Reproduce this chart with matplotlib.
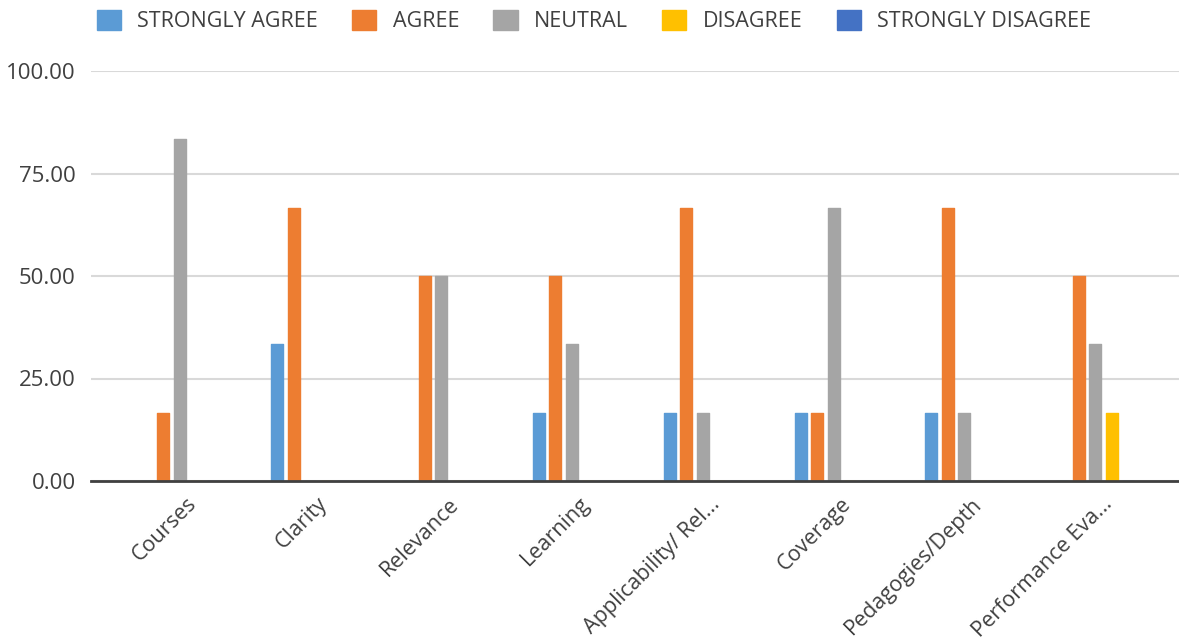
import matplotlib
matplotlib.use("Agg")
import matplotlib.pyplot as plt
import matplotlib.transforms as mtransforms
import numpy as np

categories = ["Courses", "Clarity", "Relevance", "Learning", "Applicability/ Rel...",
              "Coverage", "Pedagogies/Depth", "Performance Eva..."]
series_names = ["STRONGLY AGREE", "AGREE", "NEUTRAL", "DISAGREE", "STRONGLY DISAGREE"]
strongly_agree = [0, 33.33, 0, 16.67, 16.67, 16.67, 16.67, 0]
agree = [16.67, 66.67, 50.00, 50.00, 66.67, 16.67, 66.67, 50.00]
neutral = [83.33, 0, 50.00, 33.33, 16.67, 66.67, 16.67, 33.33]
disagree = [0, 0, 0, 0, 0, 0, 0, 16.67]
strongly_disagree = [0, 0, 0, 0, 0, 0, 0, 0]
yticks = [0, 25, 50, 75, 100]

colors = ["#5B9BD5", "#ED7D31", "#A5A5A5", "#FFC000", "#4472C4"]
all_series = [strongly_agree, agree, neutral, disagree, strongly_disagree]

plt.rcParams['font.family'] = ['Open Sans', 'DejaVu Sans']
fig = plt.figure(figsize=(11.79, 6.41), dpi=100)
W, H = 1179, 641
ax = fig.add_axes([91 / W, (H - 481) / H, (W - 91) / W, (481 - 71) / H])

x = np.arange(len(categories))
spacing = 16.5 / 130.8
width = 12 / 130.8
text_color = "#404040"

for k, (name, vals, c) in enumerate(zip(series_names, all_series, colors)):
    ax.bar(x + (k - 2) * spacing, vals, width=width, color=c, label=name,
           edgecolor=c, linewidth=1.0, joinstyle='round', zorder=3)

ax.set_xlim((91 - 179.5) / 130.8, (W - 179.5) / 130.8)
ax.set_ylim(0, 100)
ax.set_yticks(yticks)
ax.set_yticklabels([f"{v:.2f}" for v in yticks], fontsize=16, color=text_color)
ax.yaxis.grid(True, color="#D9D9D9", linewidth=1.5, zorder=0)
ax.set_axisbelow(True)
for s in ["top", "right", "left"]:
    ax.spines[s].set_visible(False)
ax.spines["bottom"].set_color("#404040")
ax.spines["bottom"].set_linewidth(2)
ax.spines["bottom"].set_zorder(5)
ax.tick_params(axis='both', length=0)
ax.tick_params(axis='y', pad=11)
ax.set_xticks(x)
ax.set_xticklabels(categories, rotation=45, ha='right', va='top',
                   rotation_mode='anchor', fontsize=15.5, color=text_color)
ax.tick_params(axis='x', pad=9)
offset = mtransforms.ScaledTranslation(7 / 100, 0, fig.dpi_scale_trans)
for lbl in ax.get_xticklabels():
    lbl.set_transform(lbl.get_transform() + offset)

handles, labels = ax.get_legend_handles_labels()
leg = fig.legend(handles, labels, loc='center', bbox_to_anchor=(594 / W, (H - 21) / H),
                 ncol=5, frameon=False, fontsize=15.5, handlelength=1.12,
                 handleheight=1.07, handletextpad=0.77, columnspacing=1.58,
                 borderpad=0.2)
for t in leg.get_texts():
    t.set_color(text_color)

fig.savefig("out.png", dpi=100)
